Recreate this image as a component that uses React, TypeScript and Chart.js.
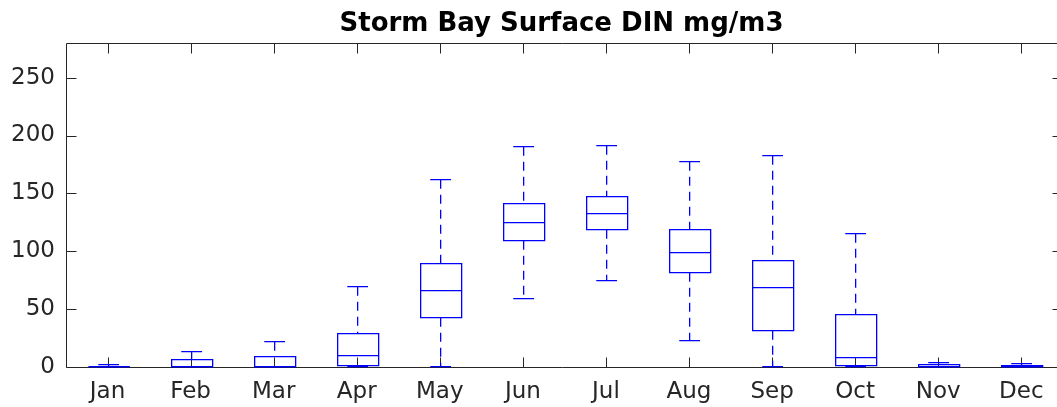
import React, { useEffect, useRef } from "react";
import { Chart, registerables } from "chart.js";

Chart.register(...registerables);

const months = ["Jan", "Feb", "Mar", "Apr", "May", "Jun", "Jul", "Aug", "Sep", "Oct", "Nov", "Dec"];
const whiskerLow = [0, 0, 0, 0, 0, 58.8, 74.3, 22.6, 0, 0, 0, 0];
const q1 = [0, 0, 0, 1, 42.3, 109, 118.5, 81, 31.3, 0.5, 0, 0];
const medians = [0.3, 1, 1, 10.2, 66.5, 125.2, 133, 98.9, 68.6, 8.8, 0.5, 0.3];
const q3 = [0.6, 6.5, 9.1, 29.5, 89.7, 141.7, 147.4, 119.1, 92, 46, 2.4, 1.5];
const whiskerHigh = [2.4, 14, 22.6, 70.3, 162.1, 191.2, 191.6, 177.7, 182.9, 115.7, 4.4, 3.3];
const yTicks = [0, 50, 100, 150, 200, 250];

const BLUE = "#0000ff";
const AXIS = "#262626";
const FONT = "'DejaVu Sans', sans-serif";
const LW = 1.3;
const OFF = 0.65;

const boxPlugin = {
  id: "boxExtras",
  afterDatasetsDraw(chart: any) {
    const { ctx } = chart;
    const x = chart.scales.x;
    const y = chart.scales.y;
    const catW = x.getPixelForValue(2) - x.getPixelForValue(1);
    const capW = catW * 0.25;
    const boxW = catW * 0.5;
    const snap = (v: number) => Math.round(v) + OFF;
    ctx.save();
    ctx.lineWidth = LW;
    ctx.strokeStyle = BLUE;
    months.forEach((_, i) => {
      const cx = snap(x.getPixelForValue(i + 1));
      const yLo = snap(y.getPixelForValue(whiskerLow[i]) - 1);
      const yHi = snap(y.getPixelForValue(whiskerHigh[i]));
      const yQ1 = snap(y.getPixelForValue(q1[i]) - 1);
      const yQ3 = snap(y.getPixelForValue(q3[i]));
      const yMed = snap(y.getPixelForValue(medians[i]));
      const bl = snap(cx - boxW / 2);
      const br = snap(cx + boxW / 2);
      ctx.setLineDash([9, 6]);
      ctx.beginPath();
      ctx.moveTo(cx, yHi);
      ctx.lineTo(cx, yQ3);
      ctx.moveTo(cx, yQ1);
      ctx.lineTo(cx, yLo);
      ctx.stroke();
      ctx.setLineDash([]);
      ctx.beginPath();
      ctx.moveTo(cx - capW / 2, yHi);
      ctx.lineTo(cx + capW / 2, yHi);
      ctx.moveTo(cx - capW / 2, yLo);
      ctx.lineTo(cx + capW / 2, yLo);
      ctx.stroke();
      ctx.beginPath();
      ctx.moveTo(bl, yQ3);
      ctx.lineTo(br, yQ3);
      ctx.lineTo(br, yQ1);
      ctx.lineTo(bl, yQ1);
      ctx.closePath();
      ctx.stroke();
      ctx.beginPath();
      ctx.moveTo(bl, yMed);
      ctx.lineTo(br, yMed);
      ctx.stroke();
    });
    ctx.restore();
  },
  beforeDatasetsDraw(chart: any) {
    const { ctx, chartArea } = chart;
    const x = chart.scales.x;
    const y = chart.scales.y;
    const L = chartArea.left + 0.5;
    const R = Math.round(x.getPixelForValue(12.5)) - 0.5;
    const T = Math.round(chartArea.top) + 0.5;
    const B = Math.round(chartArea.bottom) + 0.5;
    const tl = 10;
    ctx.save();
    ctx.strokeStyle = AXIS;
    ctx.lineWidth = 1;
    ctx.beginPath();
    ctx.moveTo(L, T);
    ctx.lineTo(R, T);
    ctx.lineTo(R, B);
    ctx.lineTo(L, B);
    ctx.closePath();
    months.forEach((_, i) => {
      const px = Math.round(x.getPixelForValue(i + 1)) + 0.5;
      ctx.moveTo(px, B);
      ctx.lineTo(px, B - tl);
      ctx.moveTo(px, T);
      ctx.lineTo(px, T + tl);
    });
    yTicks.forEach((v) => {
      const py = Math.round(y.getPixelForValue(v)) + 0.5;
      ctx.moveTo(L, py);
      ctx.lineTo(L + tl, py);
      ctx.moveTo(R, py);
      ctx.lineTo(R - tl, py);
    });
    ctx.stroke();
    ctx.restore();
  },
};

export default function App() {
  const ref = useRef<HTMLCanvasElement>(null);
  useEffect(() => {
    if (!ref.current) return;
    const chart = new Chart(ref.current, {
      type: "bar",
      data: {
        datasets: [
          {
            label: "IQR",
            data: q1.map((v, i) => ({ x: i + 1, y: [v, q3[i]] })) as any,
            backgroundColor: "rgba(0,0,0,0)",
            borderWidth: 0,
            barPercentage: 0.5,
            categoryPercentage: 1,
          },
        ],
      },
      options: {
        animation: false,
        responsive: false,
        devicePixelRatio: 1,
        layout: { padding: { left: 0, right: 0, top: 0, bottom: 0 } },
        plugins: {
          legend: { display: false },
          tooltip: { enabled: false },
          title: {
            display: true,
            fullSize: false,
            text: "Storm Bay Surface DIN mg/m3",
            color: "#000000",
            font: { family: FONT, size: 26, weight: "bold", lineHeight: 1.2 },
            padding: { top: 8.4, bottom: 3.4 },
          },
        },
        scales: {
          x: {
            type: "linear",
            min: 0.5,
            max: 12.43,
            offset: false,
            grid: { display: false, drawTicks: false },
            border: { display: false },
            ticks: {
              color: AXIS,
              font: { family: FONT, size: 23, lineHeight: 1.2 },
              padding: 11,
              maxRotation: 0,
              autoSkip: false,
              callback: (v: any) => months[Number(v) - 1] ?? "",
            },
            afterBuildTicks(axis: any) {
              axis.ticks = months.map((_, i) => ({ value: i + 1 }));
            },
            afterFit(axis: any) {
              axis.height = 40.2;
            },
          },
          y: {
            type: "linear",
            min: 0,
            max: 280,
            grid: { display: false, drawTicks: false },
            border: { display: false },
            ticks: { color: AXIS, font: { family: FONT, size: 23, lineHeight: 1.2 }, padding: 11 },
            afterBuildTicks(axis: any) {
              axis.ticks = yTicks.map((v) => ({ value: v }));
            },
            afterFit(axis: any) {
              axis.width = 66;
            },
          },
        },
      },
      plugins: [boxPlugin],
    });
    return () => chart.destroy();
  }, []);
  return (
    <div style={{ position: "absolute", left: 0, top: 0, width: 1057, height: 407, overflow: "hidden", background: "#ffffff" }}>
      <canvas ref={ref} width={1057} height={407} style={{ width: 1057, height: 407, display: "block" }} />
    </div>
  );
}
